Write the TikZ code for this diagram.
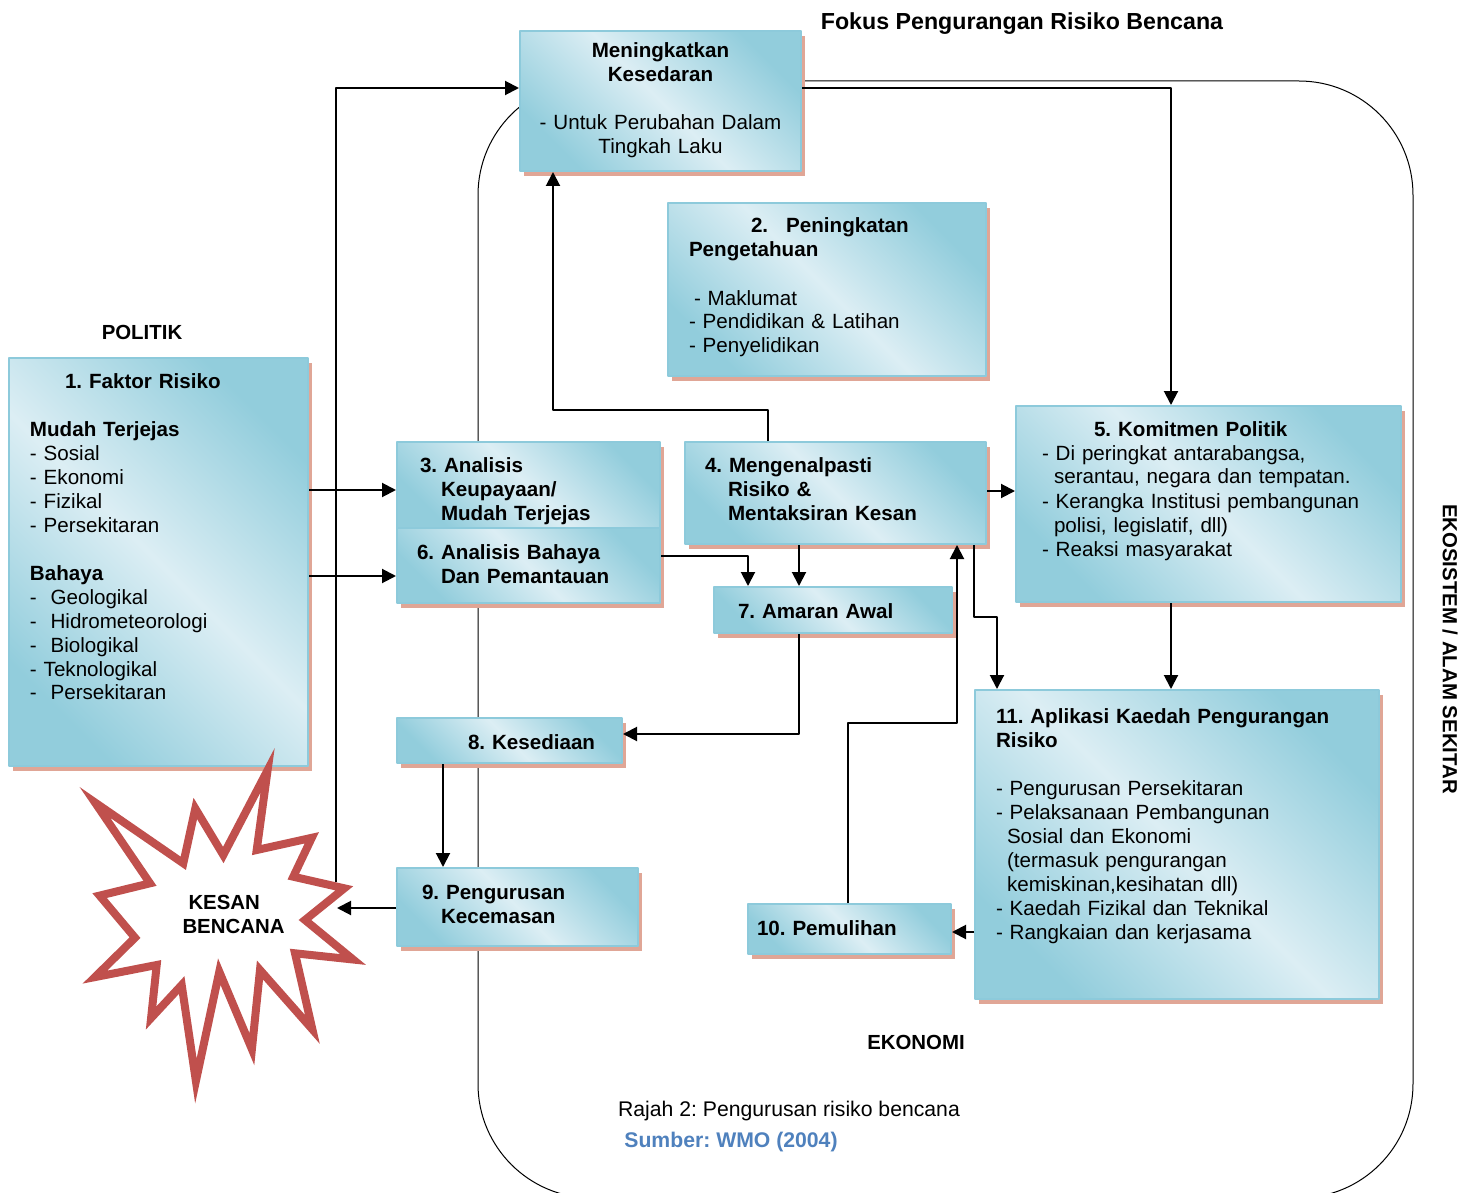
\documentclass[tikz,border=0pt]{standalone}
\usepackage{fontspec}
\setmainfont{Liberation Sans}
\usetikzlibrary{arrows.meta,shadows}
\frenchspacing
\definecolor{boxdark}{HTML}{92CDDC}
\definecolor{boxlight}{HTML}{DCEEF4}
\definecolor{boxedge}{HTML}{8DCADB}
\definecolor{boxshadow}{HTML}{E0A696}
\definecolor{starred}{HTML}{C0504D}
\definecolor{srcblue}{HTML}{4F81BD}
\pgfdeclarehorizontalshading{boxshade}{100bp}{color(0bp)=(boxdark); color(25bp)=(boxdark); color(50bp)=(boxlight); color(75bp)=(boxdark); color(100bp)=(boxdark)}
\tikzset{
  blok/.style={draw=boxedge, line width=1pt, shading=boxshade, shading angle=45,
    drop shadow={shadow xshift=2pt, shadow yshift=-2.5pt, fill=boxshadow, opacity=1},
    anchor=north west, align=left, inner ysep=0pt},
  lbl/.style={font=\fontsize{10.2}{12}\selectfont\bfseries},
}
\begin{document}
\begin{tikzpicture}[x=0.5pt,y=-0.5pt,font=\fontsize{10.3}{12}\selectfont, line join=round, line width=1pt, >={Triangle[length=7pt,width=7pt]}]
\useasboundingbox (0,0) rectangle (1474,1193);
\clip (0,0) rectangle (1474,1193);
% ekosistem
\draw[line width=0.5pt, rounded corners=57pt] (478,81) rectangle (1413,1198);
% kotak
\node[blok, align=center, text width=132.5pt, inner xsep=4pt, text height=13.5pt, text depth=56.5pt] (aware) at (519,30)
 {\textbf{Meningkatkan}\\\textbf{Kesedaran}\\[12pt]- Untuk Perubahan Dalam\\Tingkah Laku};
\node[blok, text width=138pt, inner xsep=10.5pt, text height=15pt, text depth=71.5pt] (know) at (667,202)
 {\hspace*{31pt}\textbf{2.\hspace{9pt}Peningkatan}\\\textbf{Pengetahuan}\\[12pt]\hspace*{2.5pt}- Maklumat\\- Pendidikan \& Latihan\\- Penyelidikan};
\node[blok, text width=128.5pt, inner xsep=10.5pt, text height=15pt, text depth=189pt] (risk) at (8,357)
 {\hspace*{17.5pt}\textbf{1. Faktor Risiko}\\[12pt]\textbf{Mudah Terjejas}\\- Sosial\\- Ekonomi\\- Fizikal\\- Persekitaran\\[12pt]
  \textbf{Bahaya}\\-\ \ Geologikal\\-\ \ Hidrometeorologi\\-\ \ Biologikal\\- Teknologikal\\-\ \ Persekitaran};
\node[blok, text width=108.5pt, inner xsep=11.5pt, text height=15pt, text depth=28pt] (cap) at (396,441)
 {\textbf{3. Analisis}\\\hspace*{10.5pt}\textbf{Keupayaan/}\\\hspace*{10.5pt}\textbf{Mudah Terjejas}};
\node[blok, text width=111.5pt, inner xsep=10pt, text height=15.5pt, text depth=22pt] (haz) at (396,527)
 {\textbf{6. Analisis Bahaya}\\\hspace*{12pt}\textbf{Dan Pemantauan}};
\node[blok, text width=130.5pt, inner xsep=10pt, text height=15pt, text depth=36pt] (ident) at (684,441)
 {\textbf{4. Mengenalpasti}\\\hspace*{11.5pt}\textbf{Risiko \&}\\\hspace*{11.5pt}\textbf{Mentaksiran Kesan}};
\node[blok, text width=166.5pt, inner xsep=13pt, text height=15pt, text depth=83pt] (pol) at (1015,405)
 {\hspace*{26pt}\textbf{5. Komitmen Politik}\\- Di peringkat antarabangsa,\\\hspace*{6pt}serantau, negara dan tempatan.\\- Kerangka Institusi pembangunan\\\hspace*{6pt}polisi, legislatif, dll)\\- Reaksi masyarakat};
\node[blok, text width=95pt, inner xsep=12pt, text height=15.5pt, text depth=7.5pt] (warn) at (713,586)
 {\textbf{7. Amaran Awal}};
\node[blok, text width=92.5pt, inner xsep=10pt, text height=15.5pt, text depth=7pt] (prep) at (396,717)
 {\hspace*{25.5pt}\textbf{8. Kesediaan}};
\node[blok, text width=95.5pt, inner xsep=12.5pt, text height=15.5pt, text depth=23.5pt] (emer) at (396,867)
 {\textbf{9. Pengurusan}\\\hspace*{9.5pt}\textbf{Kecemasan}};
\node[blok, text width=92.5pt, inner xsep=4.5pt, text height=15.5pt, text depth=9.5pt] (recov) at (747,903)
 {\textbf{10. Pemulihan}};
\node[blok, text width=181pt, inner xsep=10.5pt, text height=16.5pt, text depth=138pt] (app) at (974,689)
 {\textbf{11. Aplikasi Kaedah Pengurangan}\\\textbf{Risiko}\\[12pt]- Pengurusan Persekitaran\\- Pelaksanaan Pembangunan\\\hspace*{5.5pt}Sosial dan Ekonomi\\\hspace*{5.5pt}(termasuk pengurangan\\\hspace*{5.5pt}kemiskinan,kesihatan dll)\\- Kaedah Fizikal dan Teknikal\\- Rangkaian dan kerjasama};
% kesan bencana
\draw[starred, line width=4pt, fill=white, line join=miter]
 (267.6,770.2) -- (256.7,850) -- (311.8,837.8) -- (293.3,876.7) -- (344.3,888.3) -- (305,920)
 -- (353.1,959.5) -- (295,953.3) -- (312.4,1029.4) -- (260,970) -- (251.9,1049.2) -- (219.3,971.7)
 -- (195.9,1081) -- (181.7,985) -- (151.1,1018) -- (156.7,965) -- (94.9,977.1) -- (135,937.7)
 -- (99.6,895.6) -- (150,883.3) -- (94.9,802.4) -- (183.3,863.3) -- (195.3,808.5) -- (223.3,855) -- cycle;
\node[lbl, align=left] (kesan) at (233.5,914.5) {\hspace*{3pt}KESAN\\BENCANA};
\coordinate (kesanR) at (337,908);
\coordinate (kesanN) at (336,882);
% penyambung
\draw[->] (risk.east|-0,490) -- (cap.west|-0,490);
\draw[->] (risk.east|-0,576) -- (haz.west|-0,576);
\draw[->] (emer.west|-kesanR) -- (kesanR);
\draw[->] (kesanN) |- (aware.west|-0,88);
\draw[->] (ident.north-|768,0) |- (553,410) -- (aware.south-|553,0);
\draw[->] (aware.east|-0,88) -| (pol.north-|1171,0);
\draw[->] (ident.east|-0,491) -- (pol.west|-0,491);
\draw[->] (pol.south-|1171,0) -- (app.north-|1171,0);
\draw[->] (ident.south-|799,0) -- (warn.north-|799,0);
\draw[->] (haz.east|-0,556) -| (warn.north-|748,0);
\draw[->] (warn.south-|799,0) |- (prep.east|-0,734);
\draw[->] (prep.south-|443,0) -- (emer.north-|443,0);
\draw[->] (app.west|-0,932) -- (recov.east|-0,932);
\draw[->] (recov.north-|848,0) |- (957,723) -- (ident.south-|957,0);
\draw[->] (ident.south-|974,0) |- (997,617) -- (app.north-|997,0);
% label
\node[font=\fontsize{11.6}{14}\selectfont\bfseries] (judul) at (1022,24) {Fokus Pengurangan Risiko Bencana};
\node[lbl] (politik) at (142,332) {POLITIK};
\node[lbl] (ekonomi) at (916,1042) {EKONOMI};
\node[lbl, rotate=-90] (eko) at (1450,649) {EKOSISTEM / ALAM SEKITAR};
\node[font=\fontsize{10.6}{13}\selectfont] (rajah) at (789,1111) {Rajah 2: Pengurusan risiko bencana};
\node[font=\fontsize{10.6}{13}\selectfont\bfseries, text=srcblue] (sumber) at (731,1142) {Sumber: WMO (2004)};
\end{tikzpicture}
\end{document}
